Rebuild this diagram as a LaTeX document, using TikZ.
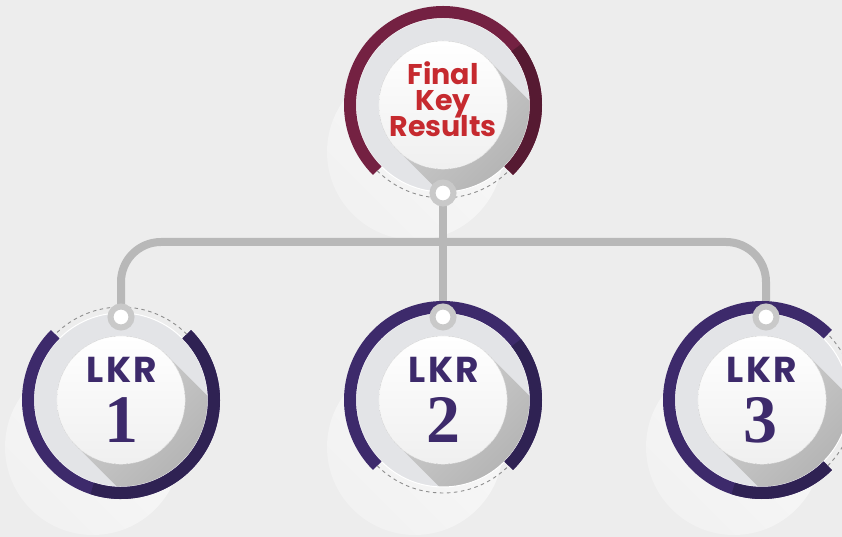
\documentclass[tikz,border=0pt]{standalone}
\usepackage{fontspec}
\newfontfamily\popf{Poppins}[BoldFont={* Bold}]
\newfontfamily\popw{Poppins}[BoldFont={* Bold}, LetterSpace=7]
\newfontfamily\numf{Liberation Serif}
\usetikzlibrary{calc}
\definecolor{bg}{HTML}{EDEDED}
\definecolor{maroon}{HTML}{742142}
\definecolor{maroondk}{HTML}{561A32}
\definecolor{purp}{HTML}{3D2A6B}
\definecolor{purpdk}{HTML}{2F2253}
\definecolor{redtxt}{HTML}{C62A2F}
\definecolor{conn}{HTML}{B8B8B8}
\definecolor{dotgray}{HTML}{C9C9C9}
\definecolor{innerdisk}{HTML}{E3E4E7}
\definecolor{dashgray}{HTML}{8E8E8E}
\tikzset{
  ghost/.style={left color=white!62!bg, right color=white!25!bg, shading angle=-45},
  longshadow/.style={left color=black!20, right color=black!42, shading angle=45},
  dashline/.style={dashgray, line width=0.9pt, dash pattern=on 3.5pt off 3.5pt},
  whitedisk/.style={top color=white, bottom color=white!94!black},
  connector/.style={conn, line width=8pt},
  dotnode/.style={circle, fill=white, draw=dotgray, line width=6pt, minimum size=21pt, inner sep=0pt},
  ftext/.style={text=redtxt, font=\popf\bfseries\fontsize{28.5}{26}\selectfont, inner sep=0pt},
  lkrtext/.style={text=purp, font=\popw\bfseries\fontsize{36}{36}\selectfont, inner sep=0pt},
  numtext/.style={text=purp, font=\numf\bfseries\fontsize{68}{68}\selectfont, inner sep=0pt},
}
% #1 centre, #2 ring colour, #3 dark colour, #4 ring start, #5 ring end, #6 dark start, #7 dark end
\newcommand\krbody[7]{%
  \fill[innerdisk] (#1) circle[radius=87];
  \begin{scope}
    \clip (#1) circle[radius=87];
    \shade[longshadow] ($(#1)+(45:64)$) -- ++(-45:220) -- ($(#1)+(225:64)+(-45:220)$) -- ($(#1)+(225:64)$) -- cycle;
  \end{scope}
  \draw[white, line width=1pt] (#1) circle[radius=87];
  \draw[line width=12pt, #2] ($(#1)+(#4:93)$) arc[start angle=#4, end angle=#5, radius=93];
  \draw[line width=12pt, #3] ($(#1)+(#6:93)$) arc[start angle=#6, end angle=#7, radius=93];
  \draw[dashline] ($(#1)+(#5:93)$) arc[start angle=#5, end angle=#4+360, radius=93];
  \fill[whitedisk] (#1) circle[radius=64];
  \draw[black!6, line width=0.6pt] (#1) circle[radius=64];
}
\begin{document}
\begin{tikzpicture}[x=1pt, y=1pt]
  \useasboundingbox (0,0) rectangle (842,537);
  \clip (0,0) rectangle (842,537);
  \fill[bg] (0,0) rectangle (842,537);
  % centres
  \coordinate (k0) at (443,432);
  \coordinate (k1) at (121,137);
  \coordinate (k2) at (443,137);
  \coordinate (k3) at (762,137);
  % connector points
  \coordinate (c0) at (443,344);
  \coordinate (c1) at (121,220);
  \coordinate (c2) at (443,220);
  \coordinate (c3) at (766,220);
  \coordinate (hb) at (443,295);
  % ghosts
  \foreach \k in {k0,k1,k2,k3} { \shade[ghost] ($(\k)+(-28,-47)$) circle[radius=88]; }
  % connectors
  \draw[connector, rounded corners=40pt] (c1) -- (c1 |- hb) -- (c3 |- hb) -- (c3);
  \draw[connector] (c0) -- (c2);
  % circles
  \krbody{k0}{maroon}{maroondk}{-45}{225}{-45}{38}
  \krbody{k1}{purp}{purpdk}{135}{405}{252}{405}
  \krbody{k2}{purp}{purpdk}{-45}{225}{-45}{38}
  \krbody{k3}{purp}{purpdk}{45}{315}{252}{315}
  % dots
  \node[dotnode] (p0) at (c0) {};
  \node[dotnode] (p1) at (c1) {};
  \node[dotnode] (p2) at (c2) {};
  \node[dotnode] (p3) at (c3) {};
  % texts
  \node[ftext, anchor=base] (t1) at (443,452) {Final};
  \node[ftext, anchor=base] (t2) at (443,426) {Key};
  \node[ftext, anchor=base] (t3) at (443,400) {Results};
  \node[lkrtext, anchor=base] (l1) at (122,154) {LKR};
  \node[lkrtext, anchor=base] (l2) at (444,154) {LKR};
  \node[lkrtext, anchor=base] (l3) at (762,154) {LKR};
  \node[numtext, anchor=base] (n1) at (121,94) {1};
  \node[numtext, anchor=base] (n2) at (443,94) {2};
  \node[numtext, anchor=base] (n3) at (760,94) {3};
\end{tikzpicture}
\end{document}
